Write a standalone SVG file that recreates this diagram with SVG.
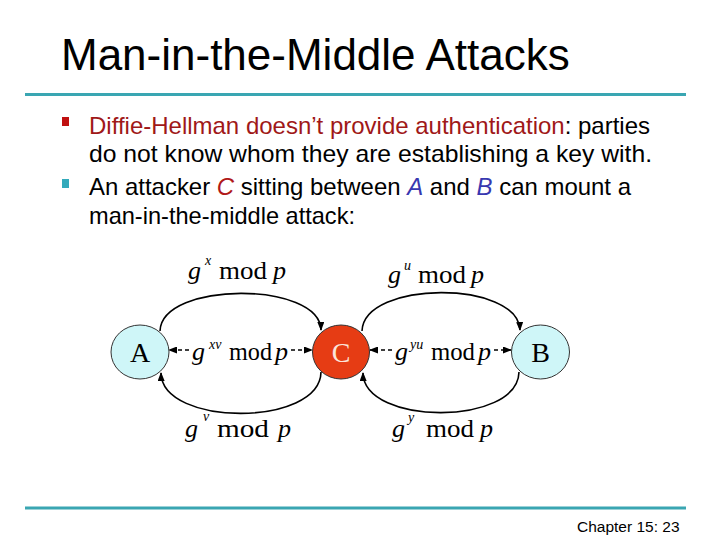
<svg xmlns="http://www.w3.org/2000/svg" width="720" height="540" viewBox="0 0 720 540">
<defs>
<style>
.sans{font-family:"Liberation Sans",Arial,sans-serif;}
.serif{font-family:"Liberation Serif","Times New Roman",serif;}
.rule{stroke:#3AA6B2;stroke-width:3;}
.arc{fill:none;stroke:#000;stroke-width:1.6;}
.dash{fill:none;stroke:#000;stroke-width:1.6;stroke-dasharray:4 3;}
.it{font-style:italic;}
.lbl{font-size:26px;fill:#000;}
.sup{font-size:14px;font-style:italic;fill:#000;}
.node{stroke:#333;stroke-width:1;}
</style>
<marker id="ah" markerWidth="9" markerHeight="7" refX="8" refY="3.5" orient="auto" markerUnits="userSpaceOnUse">
<path d="M0,0 L9,3.5 L0,7 z" fill="#000"/>
</marker>
</defs>
<rect width="720" height="540" fill="#FFFFFF"/>

<g id="title">
<text class="sans" x="61" y="70" font-size="44" fill="#000">Man-in-the-Middle Attacks</text>
<line class="rule" x1="25" y1="94.5" x2="686" y2="94.5"/>
</g>

<g id="bullets" class="sans" font-size="24">
<rect x="62" y="117" width="7" height="9" fill="#C01010"/>
<text x="89" y="134" textLength="561" lengthAdjust="spacingAndGlyphs"><tspan fill="#A01818">Diffie-Hellman doesn’t provide authentication</tspan>: parties</text>
<text x="89" y="162" textLength="563" lengthAdjust="spacingAndGlyphs">do not know whom they are establishing a key with.</text>
<rect x="62" y="179" width="7" height="9" fill="#33AABB"/>
<text x="89" y="195" textLength="542" lengthAdjust="spacingAndGlyphs">An attacker <tspan fill="#B01818" font-style="italic">C</tspan> sitting between <tspan fill="#3838B0" font-style="italic">A</tspan> and <tspan fill="#3838B0" font-style="italic">B</tspan> can mount a</text>
<text x="89" y="224" textLength="266" lengthAdjust="spacingAndGlyphs">man-in-the-middle attack:</text>
</g>

<g id="connectors">
<path class="arc" d="M160,331 C162,281 320,281 321,330" marker-end="url(#ah)"/>
<path class="arc" d="M321,372 C320,427 162,427 161,373" marker-end="url(#ah)"/>
<path class="arc" d="M362,331 C364,280 518,280 520,330" marker-end="url(#ah)"/>
<path class="arc" d="M519,372 C518,426 364,426 363,373" marker-end="url(#ah)"/>
<path class="dash" d="M189,350 L169,350" marker-end="url(#ah)"/>
<path class="dash" d="M291,350 L312,350" marker-end="url(#ah)"/>
<path class="dash" d="M392,350 L370,350" marker-end="url(#ah)"/>
<path class="dash" d="M494,350 L511,350" marker-end="url(#ah)"/>
</g>

<g id="labels" class="serif">
<g id="lbl-gx">
<text class="lbl it" x="188" y="279">g</text><text class="sup" x="205" y="265">x</text>
<text class="lbl" x="219" y="279" textLength="48" lengthAdjust="spacingAndGlyphs">mod</text><text class="lbl it" x="273" y="279">p</text>
</g>
<g id="lbl-gu">
<text class="lbl it" x="388" y="283">g</text><text class="sup" x="404" y="270">u</text>
<text class="lbl" x="418" y="283" textLength="48" lengthAdjust="spacingAndGlyphs">mod</text><text class="lbl it" x="471" y="283">p</text>
</g>
<g id="lbl-gxv">
<text class="lbl it" x="192" y="360" font-size="24">g</text><text class="sup" x="209" y="349" font-size="13">xv</text>
<text class="lbl" x="229" y="360" font-size="24" textLength="43" lengthAdjust="spacingAndGlyphs">mod</text><text class="lbl it" x="275" y="360" font-size="24">p</text>
</g>
<g id="lbl-gyu">
<text class="lbl it" x="395" y="360" font-size="24">g</text><text class="sup" x="410" y="349" font-size="13">yu</text>
<text class="lbl" x="431" y="360" font-size="24" textLength="44" lengthAdjust="spacingAndGlyphs">mod</text><text class="lbl it" x="478" y="360" font-size="24">p</text>
</g>
<g id="lbl-gv">
<text class="lbl it" x="185" y="437" font-size="29">g</text><text class="sup" x="203" y="421" font-size="15">v</text>
<text class="lbl" x="217" y="437" font-size="29" textLength="52" lengthAdjust="spacingAndGlyphs">mod</text><text class="lbl it" x="278" y="437" font-size="29">p</text>
</g>
<g id="lbl-gy">
<text class="lbl it" x="392" y="437" font-size="27">g</text><text class="sup" x="408" y="422" font-size="15">y</text>
<text class="lbl" x="426" y="437" font-size="27" textLength="48" lengthAdjust="spacingAndGlyphs">mod</text><text class="lbl it" x="480" y="437" font-size="27">p</text>
</g>
</g>

<g id="node-A">
<ellipse class="node" cx="140" cy="352" rx="29" ry="27" fill="#CFF6F8"/>
<text class="serif" x="140" y="362" font-size="28" text-anchor="middle" fill="#000">A</text>
</g>
<g id="node-C">
<ellipse class="node" cx="341" cy="352" rx="28.5" ry="27" fill="#E63C14"/>
<text class="serif" x="341" y="362" font-size="28" text-anchor="middle" fill="#FBE4DA">C</text>
</g>
<g id="node-B">
<ellipse class="node" cx="540.5" cy="352" rx="29" ry="27" fill="#CFF6F8"/>
<text class="serif" x="540.5" y="362" font-size="28" text-anchor="middle" fill="#000">B</text>
</g>

<g id="footer">
<line class="rule" x1="25" y1="508" x2="686" y2="508"/>
<text class="sans" x="577" y="532" font-size="15.5" fill="#000">Chapter 15: 23</text>
</g>
</svg>
